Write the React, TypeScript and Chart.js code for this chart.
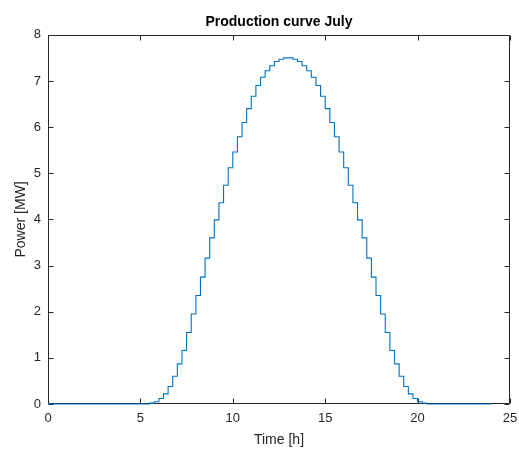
import React, { useEffect, useRef } from "react";
import { Chart, registerables } from "chart.js";

Chart.register(...registerables);

const TITLE = "Production curve July";
const X_LABEL = "Time [h]";
const Y_LABEL = "Power [MW]";

const timeHours = [
  0, 0.25, 0.5, 0.75, 1, 1.25, 1.5, 1.75, 2, 2.25, 2.5, 2.75,
  3, 3.25, 3.5, 3.75, 4, 4.25, 4.5, 4.75, 5, 5.25, 5.5, 5.75,
  6, 6.25, 6.5, 6.75, 7, 7.25, 7.5, 7.75, 8, 8.25, 8.5, 8.75,
  9, 9.25, 9.5, 9.75, 10, 10.25, 10.5, 10.75, 11, 11.25, 11.5, 11.75,
  12, 12.25, 12.5, 12.75, 13, 13.25, 13.5, 13.75, 14, 14.25, 14.5, 14.75,
  15, 15.25, 15.5, 15.75, 16, 16.25, 16.5, 16.75, 17, 17.25, 17.5, 17.75,
  18, 18.25, 18.5, 18.75, 19, 19.25, 19.5, 19.75, 20, 20.25, 20.5, 20.75,
  21, 21.25, 21.5, 21.75, 22, 22.25, 22.5, 22.75, 23, 23.25, 23.5, 23.75,
  24,
];

const powerMW = [
  0, 0, 0, 0, 0, 0, 0, 0, 0, 0, 0, 0,
  0, 0, 0, 0, 0, 0, 0, 0, 0, 0, 0.02, 0.05,
  0.12, 0.22, 0.38, 0.6, 0.87, 1.16, 1.55, 1.95, 2.35, 2.75, 3.16, 3.6,
  3.99, 4.36, 4.74, 5.12, 5.46, 5.79, 6.1, 6.4, 6.67, 6.9, 7.08, 7.22,
  7.33, 7.42, 7.47, 7.5, 7.5, 7.47, 7.42, 7.33, 7.22, 7.08, 6.9, 6.67,
  6.4, 6.1, 5.79, 5.46, 5.12, 4.74, 4.36, 3.99, 3.6, 3.16, 2.75, 2.35,
  1.95, 1.55, 1.16, 0.87, 0.6, 0.38, 0.22, 0.12, 0.05, 0.02, 0, 0,
  0, 0, 0, 0, 0, 0, 0, 0, 0, 0, 0, 0,
  0,
];

const X_MIN = 0;
const X_MAX = 25;
const X_STEP = 5;
const Y_MIN = 0;
const Y_MAX = 8;
const Y_STEP = 1;

const FONT = "'Liberation Sans', Arial, Helvetica, sans-serif";
const AXIS_COLOR = "#262626";
const TICK_LEN = 5;

const boxPlugin = {
  id: "matlabBox",
  beforeDatasetsDraw(chart: any) {
    const { ctx, chartArea: a, scales } = chart;
    ctx.save();
    ctx.strokeStyle = AXIS_COLOR;
    ctx.lineWidth = 1;
    ctx.beginPath();
    const L = Math.round(a.left) + 0.5;
    const R = Math.round(a.right) - 0.5;
    const T = Math.round(a.top) + 0.5;
    const B = Math.round(a.bottom) - 0.5;
    ctx.rect(L, T, R - L, B - T);
    scales.x.ticks.forEach((t: any) => {
      const px = Math.round(scales.x.getPixelForValue(t.value)) + 0.5;
      ctx.moveTo(px, B);
      ctx.lineTo(px, B - TICK_LEN);
      ctx.moveTo(px, T);
      ctx.lineTo(px, T + TICK_LEN);
    });
    scales.y.ticks.forEach((t: any) => {
      const py = Math.round(scales.y.getPixelForValue(t.value)) + 0.5;
      ctx.moveTo(L, py);
      ctx.lineTo(L + TICK_LEN, py);
      ctx.moveTo(R, py);
      ctx.lineTo(R - TICK_LEN, py);
    });
    ctx.stroke();
    ctx.restore();
  },
};

export default function App() {
  const canvasRef = useRef<HTMLCanvasElement | null>(null);

  useEffect(() => {
    if (!canvasRef.current) return;
    const chart = new Chart(canvasRef.current, {
      type: "line",
      data: {
        datasets: [
          {
            data: timeHours.map((x, i) => ({ x, y: powerMW[i] })),
            borderColor: "#0072BD",
            borderWidth: 1.1,
            pointRadius: 0,
            stepped: "before",
            fill: false,
            clip: 4,
          },
        ],
      },
      options: {
        animation: false,
        responsive: false,
        maintainAspectRatio: false,
        layout: { padding: { top: 0, left: 0, right: 9, bottom: 0 } },
        plugins: {
          legend: { display: false },
          tooltip: { enabled: false },
          title: {
            display: true,
            text: TITLE,
            fullSize: false,
            color: "#000000",
            font: { family: FONT, size: 14, weight: "bold" },
            padding: { top: 14, bottom: 4 },
          },
        },
        scales: {
          x: {
            type: "linear",
            min: X_MIN,
            max: X_MAX,
            grid: { display: false, drawTicks: false },
            border: { display: false },
            ticks: {
              stepSize: X_STEP,
              padding: 7,
              color: AXIS_COLOR,
              font: { family: FONT, size: 13 },
              maxRotation: 0,
            },
            title: {
              display: true,
              text: X_LABEL,
              color: AXIS_COLOR,
              font: { family: FONT, size: 14 },
              padding: { top: 0, bottom: 2 },
            },
            afterFit(scale: any) {
              scale.height = 47;
              scale.paddingLeft = 0;
              scale.paddingRight = 0;
            },
          },
          y: {
            type: "linear",
            min: Y_MIN,
            max: Y_MAX,
            grid: { display: false, drawTicks: false },
            border: { display: false },
            ticks: {
              stepSize: Y_STEP,
              padding: 7,
              color: AXIS_COLOR,
              font: { family: FONT, size: 13 },
            },
            title: {
              display: true,
              text: Y_LABEL,
              color: AXIS_COLOR,
              font: { family: FONT, size: 14 },
              padding: { top: 12.6, bottom: 0 },
            },
            afterFit(scale: any) {
              scale.width = 48;
              scale.paddingTop = 0;
              scale.paddingBottom = 0;
            },
          },
        },
      },
      plugins: [boxPlugin],
    });
    return () => chart.destroy();
  }, []);

  return (
    <div
      style={{
        position: "fixed",
        left: 0,
        top: 0,
        width: 519,
        height: 451,
        background: "#ffffff",
      }}
    >
      <canvas ref={canvasRef} width={519} height={451} style={{ width: 519, height: 451 }} />
    </div>
  );
}
